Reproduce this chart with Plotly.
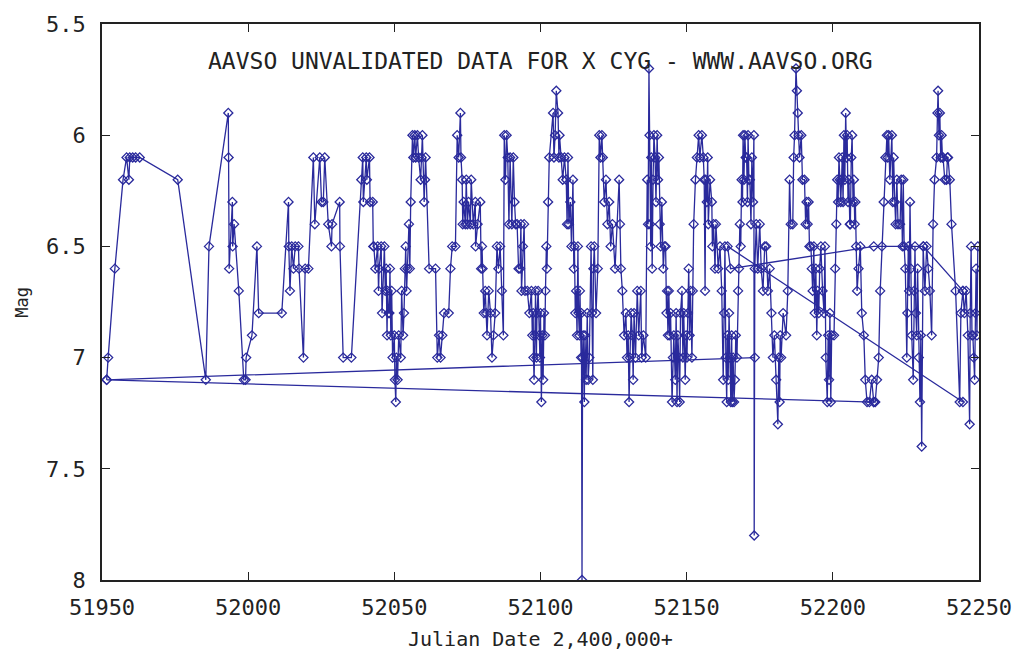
import plotly.graph_objects as go

# ---- observations (JD, visual magnitude), in file order ----
seg1 = [(51951.6,7.1),(51952.1,7.0),(51954.4,6.6),(51957.2,6.2),(51958.4,6.1),(51959.2,6.2),(51959.5,6.1),
        (51960.5,6.1),(51961.5,6.1),(51962.9,6.1),(51975.9,6.2),(51985.5,7.1),(51986.6,6.5)]
seg2 = [(51993.2,5.9),(51993.3,6.1),(51993.5,6.6),(51994.6,6.3),(51994.7,6.5),(51995.2,6.4),(51996.8,6.7),
        (51998.5,7.1),(51999.1,7.1),(51999.3,7.0),(52001.3,6.9),(52003.0,6.5),(52003.6,6.8),(52011.5,6.8),
        (52013.8,6.3),(52013.9,6.5),(52014.3,6.7),(52014.9,6.5),(52015.5,6.6),(52016.1,6.5),(52017.2,6.5),
        (52017.4,6.6),(52018.9,7.0),(52019.5,6.6),(52020.6,6.6),(52022.3,6.1),(52022.8,6.4),(52024.5,6.1),
        (52025.1,6.3),(52025.7,6.3),(52026.2,6.1),(52027.4,6.4),(52028.5,6.5),(52028.7,6.4),(52031.3,6.3),
        (52031.4,6.5),(52032.5,7.0),(52035.3,7.0)]
seg3 = [(52038.7,6.2),(52039.2,6.1),(52039.4,6.3),(52040.4,6.1),(52040.6,6.2),(52041.5,6.1),(52041.7,6.3),
        (52042.6,6.3),(52042.8,6.5),(52043.0,6.5),(52043.5,6.6),(52044.3,6.5),(52044.6,6.7),(52044.8,6.6),
        (52045.5,6.5),(52045.8,6.8),(52046.6,6.5),(52046.9,6.7),(52047.2,6.6),(52047.5,6.9),(52047.7,6.7),
        (52048.0,6.8),(52048.3,6.8),(52048.5,6.6),(52048.8,6.9),(52049.1,6.7),(52049.4,7.0),(52050.0,6.9),
        (52050.2,7.1),(52050.5,7.2),(52050.7,7.0),(52051.1,7.1),(52051.5,6.9),(52052.2,7.0),(52052.5,6.7),
        (52053.0,6.9),(52053.3,6.8),(52053.6,6.6),(52053.9,6.5),(52054.2,6.7),(52054.5,6.6),(52055.0,6.4),
        (52055.3,6.6),(52055.6,6.3),(52056.2,6.0),(52056.5,6.1),(52057.0,6.0),(52057.3,6.1),(52057.9,6.0),
        (52058.3,6.1),(52059.0,6.2),(52059.3,6.1),(52059.6,6.0),(52060.2,6.3),(52060.5,6.2),(52060.7,6.1),
        (52061.9,6.6),(52064.1,6.6),(52064.7,7.0),(52065.3,6.9),(52065.8,7.0),(52066.4,6.9),(52067.0,6.8),
        (52068.6,6.8),(52069.2,6.6),(52069.8,6.5),(52070.9,6.5),(52071.5,6.0),(52072.0,6.1),(52072.6,5.9),
        (52072.8,6.1),(52073.2,6.2),(52073.4,6.4),(52073.7,6.3),(52074.3,6.4),(52074.6,6.2),(52075.0,6.4),
        (52075.4,6.3),(52076.0,6.4),(52076.3,6.2),(52077.0,6.4),(52077.7,6.3),(52077.8,6.5),(52078.5,6.4),
        (52079.4,6.3),(52079.7,6.6),(52080.0,6.5),(52080.2,6.6),(52080.6,6.8),(52081.1,6.7),(52081.4,6.8),
        (52081.7,6.9),(52082.3,6.7),(52082.9,6.8),(52083.4,7.0),(52083.9,6.9),(52084.5,6.8),(52085.1,6.5),
        (52085.6,6.6),(52086.2,6.5),(52086.8,6.7),(52087.3,6.9)]
seg4 = [(52087.6,6.0),(52088.0,6.2),(52088.4,6.0),(52088.8,6.1),(52089.2,6.4),(52089.6,6.1),(52090.2,6.4),
        (52090.7,6.1),(52091.1,6.3),(52091.5,6.4),(52092.0,6.4),(52092.5,6.6),(52093.0,6.6),(52093.3,6.4),
        (52093.5,6.7),(52094.0,6.5),(52094.4,6.4),(52094.7,6.7),(52095.5,6.7),(52096.2,6.8),(52096.9,6.7),
        (52097.2,6.9),(52097.5,6.8),(52097.6,7.0),(52097.8,7.1),(52098.1,6.9),(52098.3,6.7),(52098.6,7.0),
        (52098.8,6.8),(52099.2,6.7),(52099.5,6.9),(52099.8,7.0),(52100.0,6.8),(52100.3,7.2),(52100.6,6.9),
        (52100.9,7.1),(52101.2,6.8),(52101.5,6.9),(52101.7,6.7),(52102.0,6.5),(52102.2,6.6),(52102.6,6.3),
        (52103.0,6.1),(52104.3,5.9),(52104.6,6.1),(52105.0,6.0),(52105.4,5.8),(52106.0,5.9),(52106.3,6.1),
        (52106.5,6.0),(52107.1,6.1),(52107.6,6.2),(52108.2,6.1),(52108.8,6.2),(52109.1,6.4),(52109.4,6.1),
        (52109.7,6.4),(52110.2,6.3),(52110.6,6.5),(52111.1,6.2),(52111.4,6.6),(52111.6,6.5),(52111.9,6.8),
        (52112.2,6.7),(52112.5,6.9),(52112.8,6.5),(52113.0,6.8),(52113.3,6.9),(52113.5,6.7),(52113.9,7.0),
        (52114.0,6.8),(52114.2,8.0),(52114.4,7.0),(52114.6,6.9),(52115.0,7.2),(52115.2,6.9),(52115.6,7.1),
        (52116.0,6.8),(52116.3,7.1),(52116.7,7.0),(52117.3,6.5),(52117.6,6.8),(52117.9,7.1),(52118.1,6.6),
        (52118.4,6.5),(52119.0,6.8),(52119.6,6.6),(52120.1,6.0),(52120.5,6.1),(52121.0,6.0),(52121.3,6.1),
        (52121.8,6.3),(52122.4,6.2),(52122.9,6.4),(52123.5,6.3),(52124.0,6.5),(52124.6,6.4),(52125.5,6.6),
        (52126.9,6.2),(52127.2,6.4),(52127.5,6.6),(52128.0,6.7),(52128.6,6.9),(52129.2,6.8),(52129.6,7.0),
        (52130.0,6.9),(52130.3,7.2),(52130.6,7.0),(52131.0,6.8),(52131.4,6.9),(52131.7,7.1),(52132.0,6.8),
        (52132.5,7.0),(52133.1,6.7),(52133.6,6.9),(52134.3,6.7),(52134.6,7.0),(52135.2,6.9),(52136.0,7.0),
        (52136.5,6.2),(52136.8,6.4),(52137.1,5.7),(52137.3,6.0),(52137.5,6.4),(52137.7,6.5),(52137.9,6.1),
        (52138.2,6.6),(52138.5,6.2),(52138.8,6.0),(52139.2,6.1),(52139.5,6.3),(52139.9,6.0),(52140.2,6.2),
        (52140.5,6.1),(52140.8,6.4),(52141.1,6.5),(52141.5,6.3),(52142.0,6.6),(52142.4,6.5),(52142.8,6.5),
        (52143.1,6.8),(52143.3,6.7),(52143.6,6.9),(52143.9,6.7),(52144.2,6.9),(52144.5,6.8),(52145.0,7.2),
        (52145.3,7.0),(52145.6,6.9)]
seg5 = [(52146.1,7.1),(52146.4,6.8),(52146.7,7.2),(52147.0,6.9),(52147.3,7.0),(52147.6,7.2),(52147.9,6.8),
        (52148.4,6.7),(52148.7,7.0),(52149.0,6.8),(52149.5,7.1),(52149.8,6.9),(52150.1,7.0),(52150.4,6.8),
        (52150.7,6.6),(52151.0,6.9),(52151.3,6.7),(52151.8,7.0),(52152.1,6.7),(52152.4,6.4),(52153.0,6.2),
        (52153.5,6.1),(52154.1,6.0),(52154.5,6.1),(52155.2,6.0),(52155.7,6.1),(52156.0,6.2),(52156.3,6.7),
        (52156.5,6.2),(52156.9,6.3),(52157.2,6.1),(52157.4,6.4),(52158.0,6.2),(52158.6,6.3),(52158.8,6.5),
        (52159.2,6.4),(52159.7,6.6),(52160.0,6.4),(52160.8,6.6),(52161.4,6.5),(52162.0,6.7),(52162.5,7.1),
        (52162.8,6.8),(52163.1,6.5),(52163.4,7.0),(52163.7,7.2),(52163.9,6.9),(52164.2,7.1),(52164.5,6.8),
        (52164.8,7.0),(52165.1,7.2),(52165.4,6.9),(52165.6,7.2),(52165.9,7.0),(52166.2,7.2),(52166.5,7.1),
        (52166.8,6.9),(52167.2,7.0),(52167.6,6.7),(52167.9,6.6),(52168.2,6.4),(52168.5,6.5),(52168.8,6.2),
        (52169.1,6.3),(52169.3,6.0),(52169.6,6.2),(52169.9,6.0),(52170.2,6.1),(52170.5,6.1),(52170.8,6.3),
        (52171.0,6.0),(52171.3,6.2),(52171.6,6.2),(52172.0,6.4),(52172.3,6.1),(52172.7,6.3),(52173.0,6.0),
        (52173.1,7.8),(52173.3,6.6),(52173.8,6.4),(52174.3,6.6),(52175.0,6.4),(52175.5,6.6),(52176.1,6.7),
        (52176.7,6.5),(52177.2,6.5),(52177.8,6.7),(52178.4,6.6),(52179.0,6.8),(52179.5,7.0),(52180.0,6.9),
        (52180.6,7.1),(52181.2,7.3),(52181.5,7.0),(52181.8,7.2),(52182.0,6.9),(52182.3,7.0),(52183.0,6.8),
        (52184.0,6.9),(52184.6,6.7),(52185.2,6.2),(52185.6,6.4),(52186.3,6.4),(52186.6,6.1),(52186.9,6.0),
        (52187.4,5.7),(52187.7,5.8),(52188.0,5.9),(52188.3,6.0),(52188.6,6.1),(52189.2,6.0),(52189.6,6.2),
        (52190.3,6.2),(52190.7,6.4),(52191.0,6.3),(52191.4,6.4),(52191.7,6.3),(52192.0,6.5),(52192.5,6.5),
        (52192.8,6.6),(52193.1,6.7),(52193.5,6.5),(52193.8,6.8),(52194.2,6.6),(52194.5,6.9),(52194.8,6.7),
        (52195.2,6.8),(52195.5,6.6),(52195.9,6.5),(52196.5,6.7),(52197.0,6.8),(52197.3,6.5),(52197.6,7.0),
        (52198.1,7.2),(52198.4,6.9),(52198.7,7.1),(52199.0,6.8),(52199.3,7.2),(52199.6,6.9)]
seg6 = [(52200.4,6.9),(52200.8,6.6),(52201.2,6.4),(52201.5,6.2),(52201.8,6.3),(52202.1,6.1),(52202.4,6.2),
        (52202.7,6.3),(52203.0,6.2),(52203.2,6.1),(52203.5,6.3),(52203.8,6.0),(52204.1,6.2),(52204.4,5.9),
        (52204.7,6.1),(52204.9,6.0),(52205.2,6.3),(52205.5,6.2),(52205.8,6.4),(52206.0,6.4),(52206.3,6.1),
        (52206.6,6.0),(52206.9,6.3),(52207.2,6.2),(52207.5,6.4),(52207.7,6.3),(52208.0,6.5),(52208.3,6.7),
        (52208.8,6.6),(52209.4,6.5),(52209.9,6.8),(52210.6,6.9),(52211.1,7.1),(52211.7,7.2),(52212.5,7.2),
        (52213.3,7.1),(52214.0,7.2),(52214.5,7.2),(52215.1,7.1),(52215.7,7.0),(52216.2,6.7),(52216.8,6.5),
        (52217.4,6.3),(52218.0,6.1),(52218.5,6.0),(52218.8,6.1),(52219.1,6.0),(52219.5,6.2),(52220.2,6.0),
        (52220.5,6.3),(52220.8,6.1),(52221.2,6.3),(52221.5,6.4),(52221.9,6.2),(52222.3,6.4),(52223.0,6.4),
        (52223.4,6.2),(52223.8,6.5),(52224.1,6.2),(52224.4,6.5),(52224.8,6.6),(52225.3,7.0),(52225.5,6.8),
        (52225.8,6.5),(52226.1,6.7),(52226.4,6.3),(52226.7,6.6),(52227.0,6.9),(52227.5,7.1),(52227.8,6.7),
        (52228.1,6.5),(52228.4,6.8),(52228.7,6.9),(52229.0,6.6),(52229.4,7.0),(52229.8,7.2),(52230.1,6.9),
        (52230.4,7.4),(52230.9,6.5),(52231.5,6.7),(52232.1,6.5),(52232.6,6.6),(52233.2,6.7),(52233.8,6.9),
        (52234.3,6.4),(52234.8,6.2),(52235.5,6.1),(52235.8,5.9),(52236.0,5.8),(52236.3,6.0),(52236.6,5.9),
        (52236.9,6.1),(52237.2,6.0),(52237.5,6.1),(52237.7,6.1),(52238.3,6.2),(52238.9,6.2),(52239.2,6.1),
        (52239.4,6.1),(52240.0,6.2),(52240.6,6.4),(52242.0,6.7),(52243.4,7.2),(52243.8,6.8),(52244.5,6.7),
        (52245.0,6.8),(52245.6,6.7),(52246.2,6.9),(52246.8,7.3),(52247.0,6.8),(52247.3,6.5),(52247.6,6.9),
        (52247.9,6.9),(52248.2,7.0),(52248.5,7.1),(52248.8,6.8),(52249.0,6.6),(52249.3,6.9),(52249.6,6.5)]
# sparse observer runs that jump back in time (long connecting lines)
run_b = [(52173.3,7.0),(51951.6,7.1),(52214.0,7.2)]
run_c = [(52244.5,6.7),(52231.0,6.5),(52214.0,6.5),(52165.0,6.6),(52164.0,6.5),(52244.5,7.2)]

x_ticks = [51950, 52000, 52050, 52100, 52150, 52200, 52250]
y_ticks = [5.5, 6, 6.5, 7, 7.5, 8]
y_ticktext = ["5.5", "6", "6.5", "7", "7.5", "8"]

main = seg1 + seg2 + seg3 + seg4 + seg5 + seg6

COLOR = "#2a2a9c"
MONO = "DejaVu Sans Mono"
INK = "#222222"

fig = go.Figure()
for run in (main, run_b, run_c):
    fig.add_trace(go.Scatter(
        x=[p[0] for p in run], y=[p[1] for p in run],
        mode="lines+markers",
        line=dict(color=COLOR, width=1.3),
        marker=dict(symbol="diamond-open", size=7, color=COLOR, line=dict(width=1.3, color=COLOR)),
        showlegend=False, hoverinfo="x+y"))

axis_common = dict(showline=True, linecolor=INK, linewidth=1.5, mirror="ticks",
                   ticks="inside", ticklen=8, tickcolor=INK, tickwidth=1,
                   showgrid=False, zeroline=False, ticklabeloverflow="allow",
                   tickfont=dict(family=MONO, size=22, color=INK))

fig.update_layout(
    width=1024, height=653,
    margin=dict(l=102, r=38, t=21, b=73),
    paper_bgcolor="white", plot_bgcolor="white",
    xaxis=dict(range=[51950, 52250], tickvals=x_ticks, ticktext=[str(t) for t in x_ticks],
               ticklabelstandoff=7, **axis_common),
    yaxis=dict(range=[8, 5.5], tickvals=y_ticks, ticktext=y_ticktext,
               ticklabelstandoff=10, **axis_common),
    annotations=[
        dict(text="AAVSO UNVALIDATED DATA FOR X CYG - WWW.AAVSO.ORG", x=0.5, y=5.665,
             xref="paper", yref="y", showarrow=False,
             font=dict(family=MONO, size=23, color=INK)),
        dict(text="Julian Date 2,400,000+", x=0.5, y=-0.107, xref="paper", yref="paper",
             showarrow=False, yanchor="middle", font=dict(family=MONO, size=20, color=INK)),
        dict(text="Mag", x=-0.0916, y=0.5, xref="paper", yref="paper", textangle=-90,
             showarrow=False, xanchor="center", font=dict(family=MONO, size=17, color=INK)),
    ],
)

# remove the default page margin so the 1024x653 figure fills the window exactly
fig.write_html("out.html", config={"displayModeBar": False},
               post_script="document.body.style.margin='0';")
